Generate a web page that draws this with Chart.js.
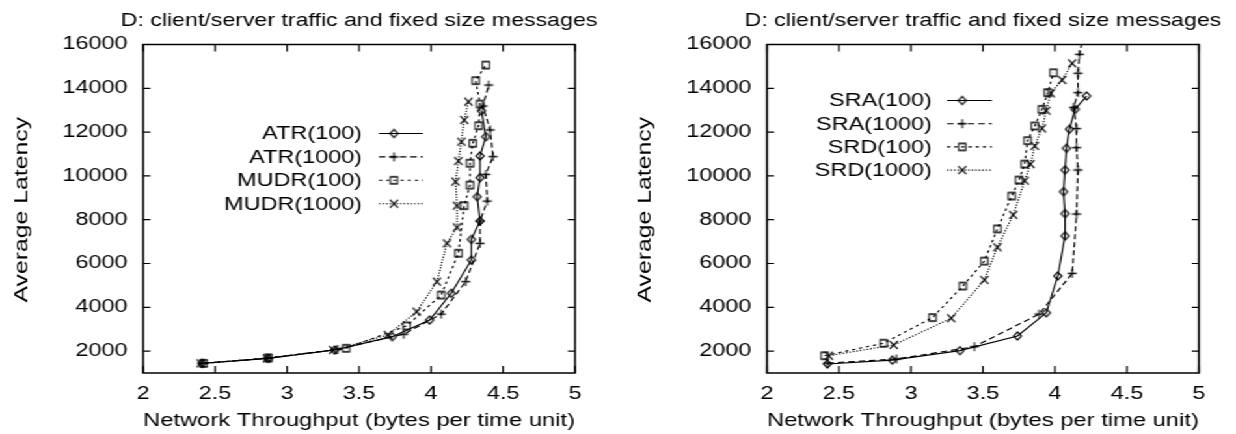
<!DOCTYPE html>
<html lang="en">
<head>
<meta charset="UTF-8">
<title>D: client/server traffic and fixed size messages</title>
<script src="https://cdn.jsdelivr.net/npm/chart.js"></script>
<style>
    html, body { margin: 0; padding: 0; background: #fff; overflow: hidden; }
    /* gnuplot text is wide: draw narrow, stretch horizontally */
    #wrap { width: 950px; height: 434px; display: flex; transform: scaleX(1.30105); transform-origin: 0 0; }
    .box { width: 475px; height: 434px; }
</style>
</head>
<body>
<div id="wrap">
    <div class="box"><canvas id="left" width="475" height="434"></canvas></div>
    <div class="box"><canvas id="right" width="475" height="434"></canvas></div>
</div>
<script>
const xTicks = [2, 2.5, 3, 3.5, 4, 4.5, 5];
const yTicks = [2000, 4000, 6000, 8000, 10000, 12000, 14000, 16000];

// left panel
const atr100X = [2.41, 2.87, 3.33, 3.73, 3.99, 4.14, 4.28, 4.28, 4.34, 4.32, 4.34, 4.34, 4.38, 4.35];
const atr100Y = [1440, 1670, 2050, 2660, 3420, 4640, 6160, 7100, 7940, 9050, 9920, 10910, 11790, 12980];
const atr1000X = [2.41, 2.86, 3.35, 3.81, 4.07, 4.24, 4.34, 4.34, 4.39, 4.38, 4.43, 4.41, 4.36, 4.40];
const atr1000Y = [1440, 1670, 2080, 2770, 3690, 5170, 6920, 7940, 8850, 10070, 10880, 12100, 13190, 14150];
const mudr100X = [2.42, 2.87, 3.41, 3.83, 4.07, 4.19, 4.23, 4.27, 4.27, 4.29, 4.33, 4.34, 4.31, 4.38];
const mudr100Y = [1440, 1690, 2130, 3150, 4560, 6470, 8640, 9580, 10580, 11490, 12290, 13280, 14350, 15060];
const mudr1000X = [2.40, 2.86, 3.32, 3.70, 3.90, 4.04, 4.11, 4.18, 4.18, 4.17, 4.19, 4.21, 4.23, 4.26];
const mudr1000Y = [1440, 1670, 2050, 2740, 3800, 5170, 6920, 7650, 8640, 9740, 10680, 11560, 12550, 13390];

// right panel
const sra100X = [2.42, 2.87, 3.34, 3.74, 3.94, 4.02, 4.07, 4.07, 4.06, 4.07, 4.08, 4.10, 4.14, 4.22];
const sra100Y = [1410, 1590, 2020, 2690, 3750, 5430, 7260, 8280, 9280, 10270, 11260, 12130, 13040, 13650];
const sra1000X = [2.42, 2.90, 3.44, 3.89, 4.12, 4.15, 4.16, 4.15, 4.15, 4.13, 4.16, 4.16, 4.17, 4.20];
const sra1000Y = [1450, 1640, 2200, 3690, 5550, 8260, 10270, 11290, 12160, 13130, 13800, 14690, 15550, 16400];
const srd100X = [2.40, 2.81, 3.15, 3.36, 3.51, 3.60, 3.70, 3.75, 3.79, 3.81, 3.86, 3.91, 3.95, 3.99];
const srd100Y = [1790, 2360, 3530, 4970, 6110, 7580, 9080, 9810, 10540, 11610, 12280, 13040, 13800, 14710];
const srd1000X = [2.43, 2.88, 3.28, 3.51, 3.60, 3.71, 3.79, 3.83, 3.86, 3.91, 3.94, 3.97, 4.05, 4.12];
const srd1000Y = [1790, 2280, 3500, 5250, 6740, 8220, 9780, 10540, 11370, 12170, 12980, 13770, 14380, 15140];

const TITLE = 'D: client/server traffic and fixed size messages';
const X_TITLE = 'Network Throughput (bytes per time unit)';
const Y_TITLE = 'Average Latency';

const K = 1236 / 950;
const FAMILY = '"Liberation Sans", Arial, sans-serif';
Chart.defaults.font.family = FAMILY;
Chart.defaults.color = '#000';

// point markers, pre-squeezed so they come out square after the stretch
function marker(kind, h) {
    const c = document.createElement('canvas');
    c.height = 2 * h + 4;
    c.width = Math.ceil(c.height / K);
    const g = c.getContext('2d');
    g.setTransform(1 / K, 0, 0, 1, 0, 0);
    const cx = c.width * K / 2, cy = c.height / 2;
    g.strokeStyle = '#000';
    g.lineWidth = 1.3;
    g.beginPath();
    if (kind === 'diamond') {
        g.moveTo(cx, cy - h); g.lineTo(cx + h, cy); g.lineTo(cx, cy + h); g.lineTo(cx - h, cy); g.closePath();
    } else if (kind === 'plus') {
        g.moveTo(cx - h, cy); g.lineTo(cx + h, cy); g.moveTo(cx, cy - h); g.lineTo(cx, cy + h);
    } else if (kind === 'square') {
        g.rect(cx - h, cy - h, 2 * h, 2 * h);
    } else {
        g.moveTo(cx - h, cy - h); g.lineTo(cx + h, cy + h); g.moveTo(cx + h, cy - h); g.lineTo(cx - h, cy + h);
    }
    g.stroke();
    return c;
}
const mDiamond = marker('diamond', 4);
const mPlus = marker('plus', 4.5);
const mSquare = marker('square', 3.5);
const mCross = marker('cross', 4);

const styles = [
    { pointStyle: mDiamond, borderDash: [] },
    { pointStyle: mPlus, borderDash: [5, 3] },
    { pointStyle: mSquare, borderDash: [2.5, 3] },
    { pointStyle: mCross, borderDash: [1.2, 1.5] }
];

function pts(xs, ys) {
    return xs.map((x, i) => ({ x: x, y: ys[i] }));
}

// border box, inward ticks on all sides, titles and the gnuplot style key
const framePlugin = {
    id: 'frame',
    afterDatasetsDraw(chart, args, o) {
        const ctx = chart.ctx, a = chart.chartArea;
        const xs = chart.scales.x, ys = chart.scales.y;
        ctx.save();
        ctx.strokeStyle = '#000';
        ctx.lineWidth = 1.2;
        ctx.beginPath();
        xTicks.forEach(v => {
            const p = xs.getPixelForValue(v);
            ctx.moveTo(p, a.bottom); ctx.lineTo(p, a.bottom - 7);
            ctx.moveTo(p, a.top); ctx.lineTo(p, a.top + 7);
        });
        yTicks.forEach(v => {
            const p = ys.getPixelForValue(v);
            ctx.moveTo(a.left, p); ctx.lineTo(a.left + 5.5, p);
            ctx.moveTo(a.right, p); ctx.lineTo(a.right - 5.5, p);
        });
        ctx.stroke();
        ctx.lineWidth = 1.5;
        ctx.strokeRect(a.left, a.top, a.right - a.left, a.bottom - a.top);

        ctx.fillStyle = '#000';

        // chart title, centred on the plot box
        ctx.font = '17.8px ' + FAMILY;
        ctx.textAlign = 'center';
        ctx.textBaseline = 'alphabetic';
        ctx.fillText(TITLE, (a.left + a.right) / 2, 26);

        // rotated y title: long along the text, narrow across it
        ctx.save();
        ctx.font = '18px ' + FAMILY;
        ctx.textBaseline = 'middle';
        ctx.translate(o.yTitleX, (a.top + a.bottom) / 2 + 1);
        ctx.rotate(-Math.PI / 2);
        ctx.scale(1.377, 1 / K);
        ctx.fillText(Y_TITLE, 0, 0);
        ctx.restore();

        // key
        ctx.font = '18px ' + FAMILY;
        ctx.textAlign = 'right';
        ctx.textBaseline = 'middle';
        chart.data.datasets.forEach((ds, i) => {
            const y = o.y0 + i * o.dy;
            ctx.fillText(ds.label, o.textX, y + 1);
            ctx.lineWidth = 1.1;
            ctx.setLineDash(ds.borderDash);
            ctx.beginPath();
            ctx.moveTo(o.lineX0, y); ctx.lineTo(o.lineX1, y);
            ctx.stroke();
            ctx.setLineDash([]);
            const m = ds.pointStyle;
            ctx.drawImage(m, o.markX - m.width / 2, y - m.height / 2);
        });
        ctx.restore();
    }
};

function makeChart(id, series, plotLeft, padRight, key) {
    new Chart(document.getElementById(id), {
        type: 'scatter',
        data: {
            datasets: series.map((s, i) => ({
                label: s.label,
                data: pts(s.x, s.y),
                showLine: true,
                borderColor: '#000',
                borderWidth: 1.15,
                borderDash: styles[i].borderDash,
                pointStyle: styles[i].pointStyle,
                pointRadius: 4,
                pointBackgroundColor: 'transparent',
                pointBorderColor: '#000',
                fill: false,
                tension: 0
            }))
        },
        options: {
            responsive: false,
            devicePixelRatio: 1,
            animation: false,
            layout: { padding: { left: 0, right: padRight, top: 44.5, bottom: 0 } },
            plugins: {
                legend: { display: false },
                tooltip: { enabled: false },
                title: { display: false },
                frame: key
            },
            scales: {
                x: {
                    type: 'linear',
                    min: 2,
                    max: 5,
                    afterBuildTicks: s => { s.ticks = xTicks.map(v => ({ value: v })); },
                    afterFit: s => { s.height = 61; },
                    grid: { display: false, drawTicks: false },
                    border: { display: false },
                    ticks: {
                        font: { size: 18 },
                        color: '#000',
                        padding: 10,
                        maxRotation: 0,
                        autoSkip: false,
                        callback: v => String(v)
                    },
                    title: {
                        display: true,
                        text: X_TITLE,
                        font: { size: 18.6 },
                        color: '#000',
                        padding: { top: 0, bottom: 2 }
                    }
                },
                y: {
                    type: 'linear',
                    min: 1000,
                    max: 16000,
                    afterBuildTicks: s => { s.ticks = yTicks.map(v => ({ value: v })); },
                    afterFit: s => { s.width = plotLeft; },
                    grid: { display: false, drawTicks: false },
                    border: { display: false },
                    ticks: {
                        font: { size: 18 },
                        color: '#000',
                        padding: 12,
                        autoSkip: false,
                        callback: v => String(v)
                    }
                }
            }
        },
        plugins: [framePlugin]
    });
}

makeChart('left', [
    { label: 'ATR(100)', x: atr100X, y: atr100Y },
    { label: 'ATR(1000)', x: atr1000X, y: atr1000Y },
    { label: 'MUDR(100)', x: mudr100X, y: mudr100Y },
    { label: 'MUDR(1000)', x: mudr1000X, y: mudr1000Y }
], 110, 33, { yTitleX: 16.7, y0: 133.5, dy: 23.4, textX: 278.2, lineX0: 291.3, lineX1: 325.1, markX: 302.8 });

makeChart('right', [
    { label: 'SRA(100)', x: sra100X, y: sra100Y },
    { label: 'SRA(1000)', x: sra1000X, y: sra1000Y },
    { label: 'SRD(100)', x: srd100X, y: srd100Y },
    { label: 'SRD(1000)', x: srd1000X, y: srd1000Y }
], 114.5, 28.5, { yTitleX: 21.5, y0: 100.5, dy: 23.2, textX: 241.3, lineX0: 252.9, lineX1: 287.4, markX: 264.6 });
</script>
</body>
</html>
